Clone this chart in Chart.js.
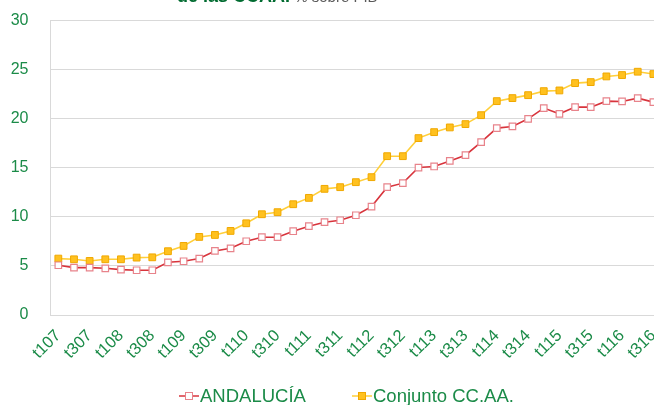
<!DOCTYPE html>
<html>
<head>
<meta charset="utf-8">
<script src="https://cdn.jsdelivr.net/npm/chart.js@4.4.1/dist/chart.umd.min.js"></script>
<style>
html,body{margin:0;padding:0;background:#fff;overflow:hidden;width:654px;height:405px;}
#wrap{position:absolute;left:0;top:0;width:667px;height:405px;}
#title{position:absolute;left:177px;top:-13px;line-height:18px;white-space:nowrap;font-family:"Liberation Sans",Arial,sans-serif;z-index:2;}
#title b{font-size:18px;color:#006b30;}
#title span{font-size:15px;color:#595959;}
</style>
</head>
<body>
<div id="wrap"><canvas id="c" width="667" height="405"></canvas></div>
<div id="title"><b>de las CCAA.</b><span> % sobre PIB</span></div>
<script>
const categories = ["t107","t207","t307","t407","t108","t208","t308","t408","t109","t209","t309","t409",
  "t110","t210","t310","t410","t111","t211","t311","t411","t112","t212","t312","t412",
  "t113","t213","t313","t413","t114","t214","t314","t414","t115","t215","t315","t415",
  "t116","t216","t316"];
const andalucia = [5.07,4.83,4.83,4.76,4.63,4.56,4.56,5.37,5.48,5.75,6.53,6.80,
  7.52,7.93,7.93,8.54,9.05,9.46,9.66,10.17,11.05,13.03,13.44,15.03,
  15.14,15.71,16.29,17.62,19.05,19.22,20.00,21.09,20.51,21.19,21.19,21.80,
  21.77,22.11,21.70];
const conjunto = [5.75,5.68,5.51,5.68,5.68,5.85,5.88,6.50,7.04,7.96,8.16,8.57,
  9.35,10.27,10.48,11.29,11.94,12.86,13.03,13.54,14.05,16.19,16.19,18.03,
  18.64,19.12,19.46,20.37,21.80,22.11,22.41,22.82,22.89,23.64,23.74,24.32,
  24.46,24.80,24.56];
const seriesNames = ["ANDALUCÍA","Conjunto CC.AA."];
const yTicks = [0,5,10,15,20,25,30];

const GREEN = "#1b8b48";
const FONT = "'Liberation Sans', Arial, sans-serif";

const legendPlugin = {
  id: 'customLegend',
  afterDraw(chart) {
    const ctx = chart.ctx;
    const y = 396;
    const items = [
      {x: 179, ds: chart.data.datasets[0]},
      {x: 352, ds: chart.data.datasets[1]}
    ];
    ctx.save();
    items.forEach(it => {
      const ds = it.ds;
      ctx.strokeStyle = ds.borderColor;
      ctx.lineWidth = 1.5;
      ctx.beginPath();
      ctx.moveTo(it.x, y);
      ctx.lineTo(it.x + 20, y);
      ctx.stroke();
      ctx.fillStyle = ds.pointBackgroundColor;
      ctx.strokeStyle = ds.pointBorderColor;
      ctx.lineWidth = 1;
      ctx.fillRect(it.x + 6.5, y - 3.5, 7, 7);
      ctx.strokeRect(it.x + 6.5, y - 3.5, 7, 7);
      ctx.fillStyle = GREEN;
      ctx.font = "18.5px " + FONT;
      ctx.textBaseline = "middle";
      ctx.textAlign = "left";
      ctx.fillText(ds.label, it.x + 21, y + 1);
    });
    ctx.restore();
  }
};

function zeroPad(s) { s.paddingTop = 0; s.paddingBottom = 0; s.paddingLeft = 0; s.paddingRight = 0; }

new Chart(document.getElementById('c'), {
  type: 'line',
  data: {
    labels: categories,
    datasets: [
      {
        label: seriesNames[0],
        data: andalucia,
        borderColor: "#d8343c",
        borderWidth: 1.6,
        pointStyle: 'rect',
        pointRadius: 4.6,
        pointBackgroundColor: "#ffffff",
        pointBorderColor: "#e8838b",
        pointBorderWidth: 1.2,
        tension: 0
      },
      {
        label: seriesNames[1],
        data: conjunto,
        borderColor: "#ffcf3a",
        borderWidth: 1.6,
        pointStyle: 'rect',
        pointRadius: 4.8,
        pointBackgroundColor: "#ffc11f",
        pointBorderColor: "#f0a800",
        pointBorderWidth: 1,
        tension: 0
      }
    ]
  },
  options: {
    responsive: false,
    animation: false,
    layout: {padding: {left: 0, right: 0, top: 20.7, bottom: 30}},
    plugins: {legend: {display: false}, tooltip: {enabled: false}, title: {display: false}},
    scales: {
      x: {
        offset: true,
        grid: {display: false, drawTicks: false},
        border: {display: true, color: "#d9d9d9", width: 1},
        afterFit: s => { s.height = 60; zeroPad(s); },
        ticks: {
          autoSkip: false,
          maxRotation: 45,
          minRotation: 45,
          padding: 11,
          color: GREEN,
          font: {family: FONT, size: 16.5},
          callback: function(v, i) { return i % 2 === 0 ? categories[i] : ''; }
        }
      },
      y: {
        min: 0,
        max: 30,
        afterFit: s => { s.width = 50.5; zeroPad(s); },
        afterBuildTicks: s => { s.ticks = yTicks.map(v => ({value: v})); },
        grid: {color: "#d9d9d9", lineWidth: 1, drawTicks: false},
        border: {display: true, color: "#d9d9d9", width: 1},
        ticks: {
          color: GREEN,
          padding: 22,
          font: {family: FONT, size: 16}
        }
      }
    }
  },
  plugins: [legendPlugin]
});
</script>
</body>
</html>
